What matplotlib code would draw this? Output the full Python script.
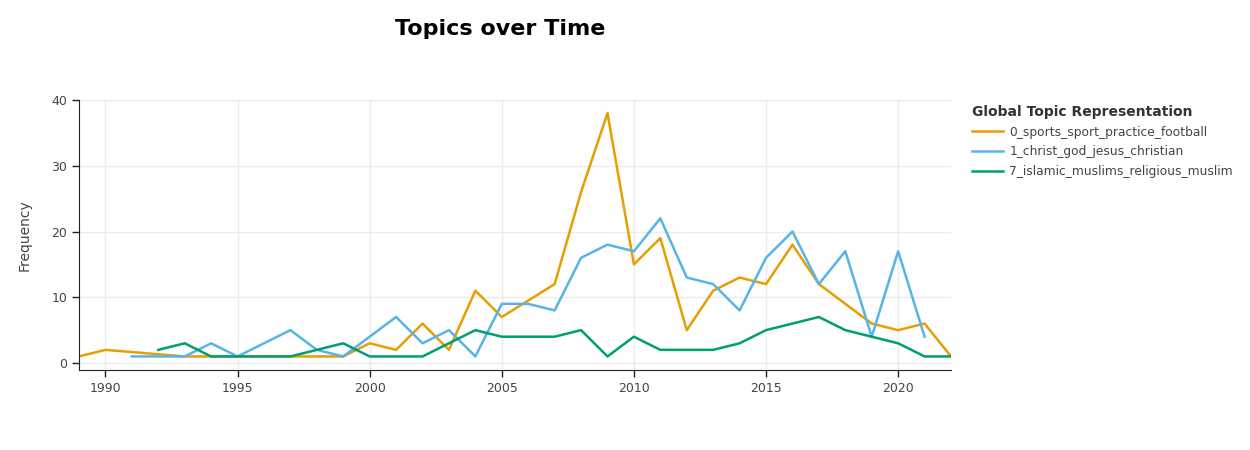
import matplotlib
matplotlib.use("Agg")
import matplotlib.pyplot as plt

# topic frequencies per year
sports_years = [1989, 1990, 1993, 1994, 1995, 1996, 1997, 1998, 1999, 2000, 2001, 2002, 2003,
                2004, 2005, 2007, 2008, 2009, 2010, 2011, 2012, 2013, 2014, 2015, 2016,
                2017, 2018, 2019, 2020, 2021, 2022]
sports_freq = [1, 2, 1, 1, 1, 1, 1, 1, 1, 3, 2, 6, 2,
               11, 7, 12, 26, 38, 15, 19, 5, 11, 13, 12, 18,
               12, 9, 6, 5, 6, 1]

christ_years = [1991, 1992, 1993, 1994, 1995, 1996, 1997, 1998, 1999, 2000, 2001, 2002, 2003,
                2004, 2005, 2006, 2007, 2008, 2009, 2010, 2011, 2012, 2013, 2014, 2015,
                2016, 2017, 2018, 2019, 2020, 2021]
christ_freq = [1, 1, 1, 3, 1, 3, 5, 2, 1, 4, 7, 3, 5,
               1, 9, 9, 8, 16, 18, 17, 22, 13, 12, 8, 16,
               20, 12, 17, 4, 17, 4]

islam_years = [1992, 1993, 1994, 1995, 1996, 1997, 1998, 1999, 2000, 2001, 2002, 2003, 2004,
               2005, 2006, 2007, 2008, 2009, 2010, 2011, 2012, 2013, 2014, 2015, 2016,
               2017, 2018, 2019, 2020, 2021, 2022]
islam_freq = [2, 3, 1, 1, 1, 1, 2, 3, 1, 1, 1, 3, 5,
              4, 4, 4, 5, 1, 4, 2, 2, 2, 3, 5, 6,
              7, 5, 4, 3, 1, 1]

labels = ["0_sports_sport_practice_football",
          "1_christ_god_jesus_christian",
          "7_islamic_muslims_religious_muslim"]
colors = ["#E69F00", "#56B4E9", "#009E73"]

plt.rcParams['font.family'] = ['DejaVu Sans']

fig = plt.figure(figsize=(12.5, 4.5), dpi=100)
ax = fig.add_axes([0.0632, 0.1778, 0.6976, 0.6])

ax.plot(sports_years, sports_freq, color=colors[0], lw=1.8, label=labels[0])
ax.plot(christ_years, christ_freq, color=colors[1], lw=1.8, label=labels[1])
ax.plot(islam_years, islam_freq, color=colors[2], lw=1.8, label=labels[2])

ax.set_xlim(1989, 2022)
ax.set_ylim(-1.06, 40)
ax.set_xticks(range(1990, 2021, 5))
ax.set_yticks(range(0, 41, 10))
ax.grid(True, color="#ebebeb", lw=1)
ax.set_axisbelow(True)
for s in ["top", "right"]:
    ax.spines[s].set_visible(False)
ax.spines["left"].set_color("#222222")
ax.spines["bottom"].set_color("#222222")
ax.tick_params(labelsize=9, colors="#444444", length=5, width=1)
ax.tick_params(axis="both", color="#222222")
ax.set_ylabel("Frequency", fontsize=10, color="#444444", labelpad=14)

fig.text(0.4, 0.935, "Topics over Time", fontsize=16, fontweight="bold",
         ha="center", va="center")

leg = ax.legend(loc="upper left", bbox_to_anchor=(1.018, 1.0), frameon=False,
                title="Global Topic Representation", fontsize=8.8,
                handlelength=2.6, handletextpad=0.5, labelspacing=0.55,
                borderaxespad=0)
leg.get_title().set_fontweight("bold")
leg.get_title().set_fontsize(10)
leg.get_title().set_color("#333333")
for t in leg.get_texts():
    t.set_color("#444444")
leg._legend_box.align = "left"

fig.savefig("out.png", dpi=100)
